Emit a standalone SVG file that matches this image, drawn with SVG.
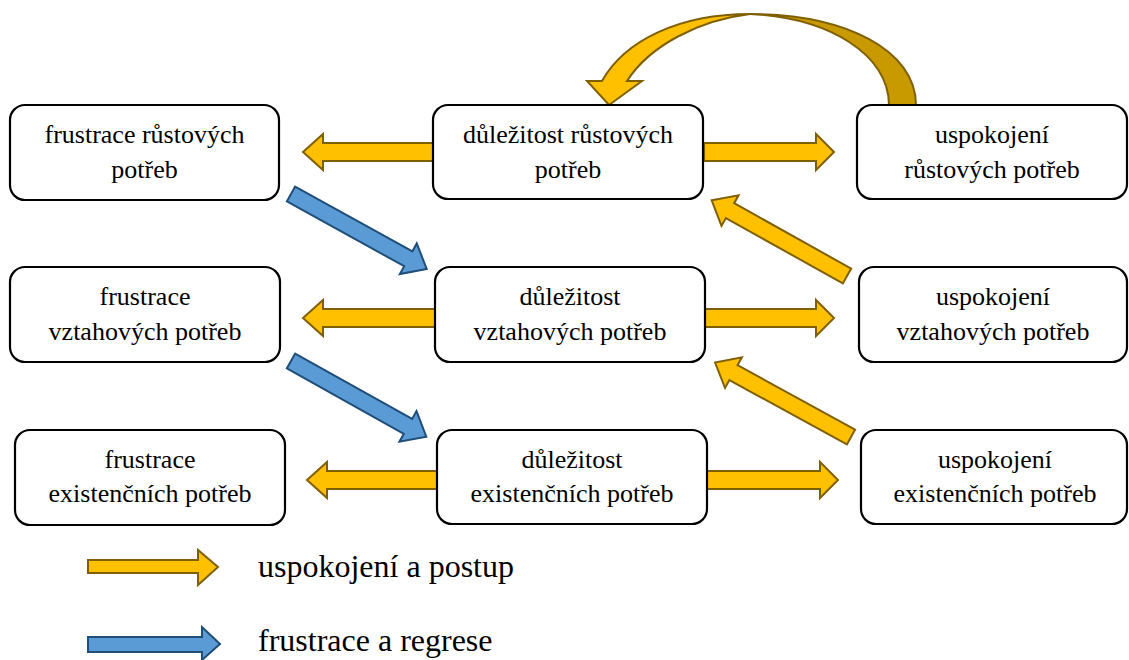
<svg xmlns="http://www.w3.org/2000/svg" width="1129" height="660" viewBox="0 0 1129 660">
<style>
.box{fill:#fff;stroke:#000;stroke-width:2.2}
.t{font-family:'Liberation Serif','Times New Roman',serif;font-size:26px;fill:#000;text-anchor:middle}
.lg{font-family:'Liberation Serif','Times New Roman',serif;font-size:32px;fill:#000}
.y{fill:#FFC000;stroke:#7F6000;stroke-width:2;stroke-linejoin:miter}
.yd{fill:#C99A00;stroke:#7F6000;stroke-width:2}
.b{fill:#5B9BD5;stroke:#1F4E79;stroke-width:2}
</style>
<rect width="1129" height="660" fill="#fff"/>
<defs>
<path id="da" d="M0,-8.5 L134,-8.5 L134,-17.5 L155,0 L134,17.5 L134,8.5 L0,8.5 Z"/>
</defs>
<g id="connectors">
<path class="yd" d="M916,105 C916,50 845,14 750,14 C830,18 889,55 889,105 Z"/>
<path class="y" d="M750,14 C680,14 625,40 602,81 L587,81 L609,105 L642,81 L627,81 C650,45 700,20 750,14 Z"/>
<polygon class="y" points="433,143 323,143 323,134 303,152 323,170 323,161 433,161"/>
<polygon class="y" points="704,143 816,143 816,134 834,152 816,170 816,161 704,161"/>
<polygon class="y" points="435,309 323,309 323,300 303,318 323,336 323,327 435,327"/>
<polygon class="y" points="705,309 816,309 816,300 834,318 816,336 816,327 705,327"/>
<polygon class="y" points="437,471 327,471 327,462 307,480 327,498 327,489 437,489"/>
<polygon class="y" points="707,471 820,471 820,462 838,480 820,498 820,489 707,489"/>
<use href="#da" class="y" transform="translate(847,276) rotate(209.2)"/>
<use href="#da" class="y" transform="translate(851,437) rotate(208.7)"/>
<use href="#da" class="b" transform="translate(291,194) rotate(28.9)"/>
<use href="#da" class="b" transform="translate(291,361) rotate(29.2)"/>
</g>
<g id="n1"><rect class="box" x="10" y="105" width="269" height="95" rx="15"/><text class="t" x="144.5" y="143">frustrace růstových</text><text class="t" x="144.5" y="178">potřeb</text></g>
<g id="n2"><rect class="box" x="433" y="105" width="270" height="94" rx="15"/><text class="t" x="568" y="143">důležitost růstových</text><text class="t" x="568" y="178">potřeb</text></g>
<g id="n3"><rect class="box" x="857" y="105" width="270" height="94" rx="15"/><text class="t" x="992" y="143">uspokojení</text><text class="t" x="992" y="178">růstových potřeb</text></g>
<g id="n4"><rect class="box" x="10" y="267" width="270" height="95" rx="15"/><text class="t" x="145" y="305">frustrace</text><text class="t" x="145" y="340">vztahových potřeb</text></g>
<g id="n5"><rect class="box" x="435" y="267" width="270" height="95" rx="15"/><text class="t" x="570" y="305">důležitost</text><text class="t" x="570" y="340">vztahových potřeb</text></g>
<g id="n6"><rect class="box" x="859" y="267" width="268" height="95" rx="15"/><text class="t" x="993" y="305">uspokojení</text><text class="t" x="993" y="340">vztahových potřeb</text></g>
<g id="n7"><rect class="box" x="15" y="430" width="270" height="95" rx="15"/><text class="t" x="150" y="468">frustrace</text><text class="t" x="150" y="502">existenčních potřeb</text></g>
<g id="n8"><rect class="box" x="437" y="430" width="270" height="94" rx="15"/><text class="t" x="572" y="468">důležitost</text><text class="t" x="572" y="502">existenčních potřeb</text></g>
<g id="n9"><rect class="box" x="861" y="430" width="266" height="94" rx="15"/><text class="t" x="995" y="468">uspokojení</text><text class="t" x="995" y="502">existenčních potřeb</text></g>
<g id="legend">
<polygon class="y" points="88,560 198,560 198,550 218,567 198,585 198,573 88,573"/>
<polygon class="b" points="88,637 202,637 202,627 220,644 202,660 202,652 88,652"/>
<text class="lg" x="258" y="577">uspokojení a postup</text>
<text class="lg" x="258" y="651">frustrace a regrese</text>
</g>
</svg>
